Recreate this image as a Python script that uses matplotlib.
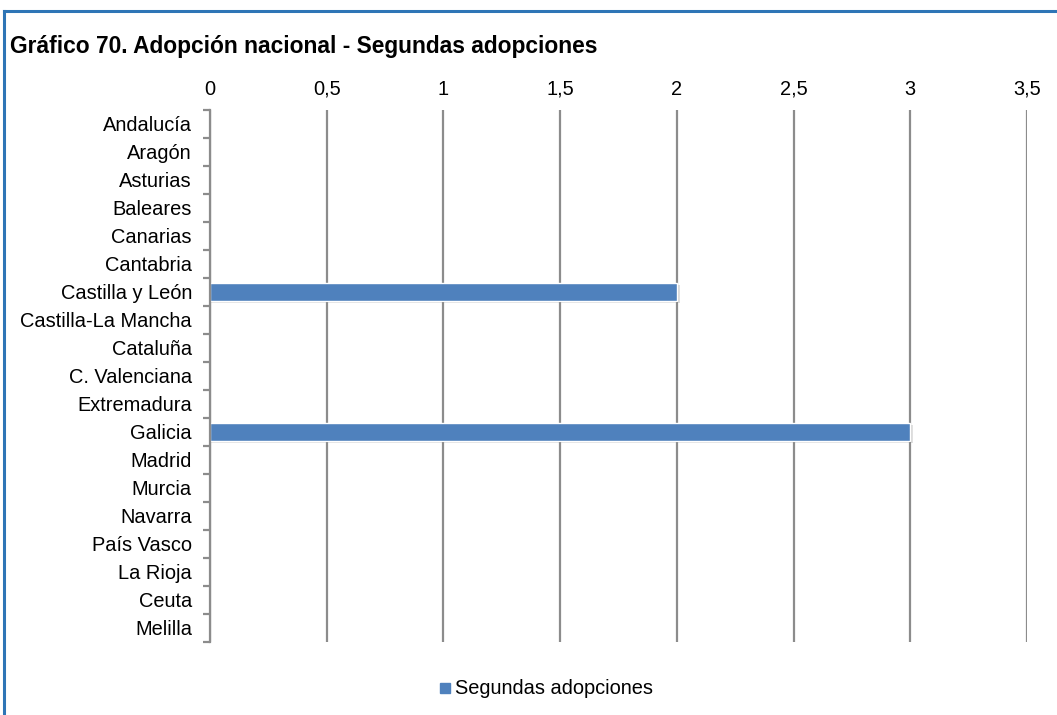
import numpy as np
import matplotlib
matplotlib.use("Agg")
import matplotlib.pyplot as plt
from matplotlib.lines import Line2D

plt.rcParams["font.family"] = ["Liberation Sans", "DejaVu Sans"]

# Datos
regiones = [
    "Andalucía", "Aragón", "Asturias", "Baleares", "Canarias", "Cantabria",
    "Castilla y León", "Castilla-La Mancha", "Cataluña", "C. Valenciana",
    "Extremadura", "Galicia", "Madrid", "Murcia", "Navarra", "País Vasco",
    "La Rioja", "Ceuta", "Melilla",
]
segundas = [0, 0, 0, 0, 0, 0, 2, 0, 0, 0, 0, 3, 0, 0, 0, 0, 0, 0, 0]
x_ticks = [0, 0.5, 1, 1.5, 2, 2.5, 3, 3.5]
x_labels = ["0", "0,5", "1", "1,5", "2", "2,5", "3", "3,5"]

titulo = "Gráfico 70. Adopción nacional - Segundas adopciones"
serie = "Segundas adopciones"

azul = "#4F81BD"
gris = "#8C8C8C"

fig = plt.figure(figsize=(10.57, 7.15), dpi=100)
ax = fig.add_axes([0.1987, 0.1021, 0.7729, 0.7441])

y = np.arange(len(regiones))
vals = np.array(segundas, dtype=float)
mask = vals > 0

# sombra de las barras
ax.barh(y[mask] + 0.07, vals[mask] + 0.012, height=0.66, left=0.0,
        color="#000000", alpha=0.12, linewidth=0, zorder=2)
ax.barh(y[mask], vals[mask], height=0.62, color=azul, edgecolor="white",
        linewidth=1.0, zorder=3)

ax.set_xlim(0, 3.5)
ax.set_ylim(len(regiones) - 0.5, -0.5)

ax.xaxis.tick_top()
ax.set_xticks(x_ticks)
ax.set_xticklabels(x_labels)
ax.tick_params(axis="x", length=0, pad=8, labelsize=14.4)
ax.grid(axis="x", color=gris, linewidth=1.6, zorder=1)

ax.set_yticks(y)
ax.set_yticklabels(regiones)
ax.set_yticks(np.arange(len(regiones) + 1) - 0.5, minor=True)
ax.tick_params(axis="y", which="major", length=0, pad=13, labelsize=14.4)
ax.tick_params(axis="y", which="minor", length=5, width=1.6, color=gris)

for s in ["top", "right", "bottom"]:
    ax.spines[s].set_visible(False)
ax.spines["left"].set_color(gris)
ax.spines["left"].set_linewidth(1.6)
ax.spines["left"].set_zorder(4)
ax.set_axisbelow(True)

fig.text(10 / 1057, 1 - 46 / 715, titulo, fontsize=16.4, fontweight="bold",
         ha="left", va="center")

h = Line2D([], [], marker="s", linestyle="none", color=azul, markersize=7)
fig.legend([h], [serie], loc="center", bbox_to_anchor=(545 / 1057, 1 - 689 / 715),
           frameon=False, fontsize=14.4, handletextpad=0.1, handlelength=0.8)

# marco
borde = "#2E75B6"
fig.add_artist(Line2D([4 / 1057, 4 / 1057], [0, 1 - 11 / 715],
                      transform=fig.transFigure, color=borde, linewidth=2.2))
fig.add_artist(Line2D([4 / 1057, 1], [1 - 11 / 715, 1 - 11 / 715],
                      transform=fig.transFigure, color=borde, linewidth=2.2))

fig.savefig("out.png", dpi=100)
